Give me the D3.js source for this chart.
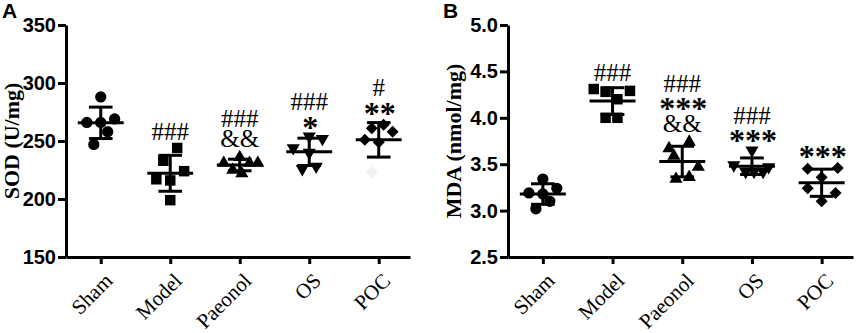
<!DOCTYPE html>
<html lang="en">
<head>
<meta charset="UTF-8">
<title>SOD and MDA</title>
<script src="https://cdnjs.cloudflare.com/ajax/libs/d3/7.8.5/d3.min.js"></script>
<style>
    body { margin: 0; background: #fff; }
    .tick text { font-family: "Liberation Sans", Arial, sans-serif; font-weight: bold; }
</style>
</head>
<body>
<div id="chart"></div>
<script>
    // Data
    const groups = ["Sham", "Model", "Paeonol", "OS", "POC"];
    const symbols = ["circle", "square", "triangle", "triangleDown", "diamond"];

    const sodValues = [
        [288, 266, 266, 269, 258, 247],
        [244, 233, 224, 217, 216, 199],
        [231, 236, 231, 225, 222, 231],
        [244, 254, 252, 240, 226, 228],
        [261, 264, 258, 251, 249, 223]
    ];
    const sodJitter = [
        [0, -0.2, 0, 0.2, 0.1, -0.1],
        [0.1, -0.1, 0.2, -0.2, 0, 0],
        [-0.23, 0, 0.26, -0.1, 0.03, 0.14],
        [-0.23, 0, 0.19, 0, -0.1, 0.1],
        [-0.1, 0.07, 0.2, -0.2, 0, -0.1]
    ];
    const sodFaint = [[4, 5]]; // group, point: barely visible in the figure
    const sodMarks = [[], ["###"], ["###", "&&"], ["###", "*"], ["#", "**"]];
    const sodTicks = [150, 200, 250, 300, 350];

    const mdaValues = [
        [3.34, 3.19, 3.18, 3.24, 3.10, 3.02],
        [4.31, 4.28, 4.29, 4.20, 4.00, 4.00],
        [3.74, 3.67, 3.59, 3.47, 3.34, 3.36],
        [3.65, 3.49, 3.47, 3.42, 3.42, 3.42],
        [3.45, 3.46, 3.36, 3.24, 3.19, 3.10]
    ];
    const mdaJitter = [
        [0, -0.2, 0, 0.2, 0.1, -0.1],
        [-0.27, -0.1, 0.25, 0.07, -0.1, 0.07],
        [0.1, -0.19, -0.12, 0.23, -0.09, 0.1],
        [0, -0.26, 0.24, -0.09, 0.03, 0.16],
        [-0.2, 0.23, 0, -0.2, 0.2, 0]
    ];
    const mdaMarks = [[], ["###"], ["###", "***", "&&"], ["###", "***"], ["***"]];
    const mdaTicks = [2.5, 3.0, 3.5, 4.0, 4.5, 5.0];

    const width = 858, height = 333;
    const svg = d3.select("#chart").append("svg")
        .attr("width", width).attr("height", height);

    // marker shapes: type, area, rotation, how far the shape reaches above its centre
    const markerStyle = {
        circle:       { type: d3.symbolCircle,   size: 100, rot: 0,   top: 5.6 },
        square:       { type: d3.symbolSquare,   size: 110, rot: 0,   top: 5.2 },
        triangle:     { type: d3.symbolTriangle, size: 75,  rot: 0,   top: 7.6 },
        triangleDown: { type: d3.symbolTriangle, size: 75,  rot: 180, top: 3.8 },
        diamond:      { type: d3.symbolSquare,   size: 72,  rot: 45,  top: 6.0 }
    };
    const serif = "'Liberation Serif', 'Times New Roman', serif";

    function drawPanel(opt) {
        const g = svg.append("g");
        const x = d3.scaleLinear().domain([-0.5, 4.45]).range([opt.left, opt.right]);
        const y = d3.scaleLinear().domain(opt.domain).range([opt.bottom, opt.top]);

        // Points
        opt.values.forEach((vals, gi) => {
            const ms = markerStyle[symbols[gi]];
            vals.forEach((v, pi) => {
                const faint = (opt.faint || []).some(f => f[0] === gi && f[1] === pi);
                g.append("path")
                    .attr("d", d3.symbol(ms.type, ms.size)())
                    .attr("transform", `translate(${x(gi + opt.jitter[gi][pi])},${y(v)}) rotate(${ms.rot})`)
                    .attr("fill", faint ? "#f2f2f2" : "#000");
            });

            // Mean and SD
            const mean = d3.mean(vals), sd = d3.deviation(vals);
            g.append("line")
                .attr("x1", x(gi - 0.33)).attr("x2", x(gi + 0.33))
                .attr("y1", y(mean)).attr("y2", y(mean))
                .attr("stroke", "#000").attr("stroke-width", 3);
            g.append("line")
                .attr("x1", x(gi)).attr("x2", x(gi))
                .attr("y1", y(mean - sd)).attr("y2", y(mean + sd))
                .attr("stroke", "#000").attr("stroke-width", 3);
            [mean - sd, mean + sd].forEach(c => {
                g.append("line")
                    .attr("x1", x(gi - 0.17)).attr("x2", x(gi + 0.17))
                    .attr("y1", y(c)).attr("y2", y(c))
                    .attr("stroke", "#000").attr("stroke-width", 3);
            });

            // Significance marks stacked above the group
            const topY = Math.min(y(d3.max(vals)) - ms.top, y(mean + sd));
            const marks = opt.marks[gi];
            marks.forEach((m, k) => {
                const level = marks.length - 1 - k;
                const cy = topY - 11 - 20 * level;
                const star = m[0] === "*";
                g.append("text")
                    .attr("x", x(gi) + (star ? 1 : 0))
                    .attr("y", cy + (star ? 16 : 8.5))
                    .attr("text-anchor", "middle")
                    .style("font-family", serif)
                    .style("font-size", star ? "32px" : "25px")
                    .style("font-weight", star ? "bold" : "normal")
                    .text(m);
            });
        });

        // Axes
        const yAxis = g.append("g")
            .attr("transform", `translate(${opt.left},0)`)
            .call(d3.axisLeft(y).tickValues(opt.ticks).tickFormat(opt.fmt).tickSize(8).tickPadding(2).tickSizeOuter(0));
        const xAxis = g.append("g")
            .attr("transform", `translate(0,${opt.bottom})`)
            .call(d3.axisBottom(x).tickValues(d3.range(groups.length)).tickFormat("").tickSize(7).tickSizeOuter(0));
        [yAxis, xAxis].forEach(a => {
            a.select(".domain").attr("stroke-width", 3);
            a.selectAll(".tick line").attr("stroke-width", 3);
        });
        yAxis.selectAll(".tick text").style("font-size", "20px");

        // Rotated category labels (45 degrees), text ends just right of the tick
        groups.forEach((name, i) => {
            g.append("text")
                .attr("transform", `translate(${x(i) + 13},${opt.bottom + 25}) rotate(-45)`)
                .attr("text-anchor", "end")
                .style("font-family", serif)
                .style("font-size", "21px")
                .text(name);
        });

        // Axis title
        g.append("text")
            .attr("transform", `translate(${opt.titleX},${(opt.top + opt.bottom) / 2}) rotate(-90)`)
            .attr("text-anchor", "middle")
            .style("font-family", serif)
            .style("font-weight", "bold")
            .style("font-size", "22px")
            .text(opt.title);

        // Panel letter
        g.append("text")
            .attr("x", opt.letterX).attr("y", 18)
            .style("font-family", "'Liberation Sans', Arial, sans-serif")
            .style("font-weight", "bold")
            .style("font-size", "21px")
            .text(opt.letter);
    }

    drawPanel({
        left: 66, right: 410, top: 25, bottom: 257,
        domain: [150, 350], ticks: sodTicks, fmt: d3.format("d"),
        values: sodValues, jitter: sodJitter, faint: sodFaint, marks: sodMarks,
        title: "SOD (U/mg)", titleX: 19, letter: "A", letterX: 2
    });
    drawPanel({
        left: 508, right: 853, top: 25, bottom: 257,
        domain: [2.5, 5.0], ticks: mdaTicks, fmt: d3.format(".1f"),
        values: mdaValues, jitter: mdaJitter, marks: mdaMarks,
        title: "MDA (nmol/mg)", titleX: 461, letter: "B", letterX: 443
    });
</script>
</body>
</html>
